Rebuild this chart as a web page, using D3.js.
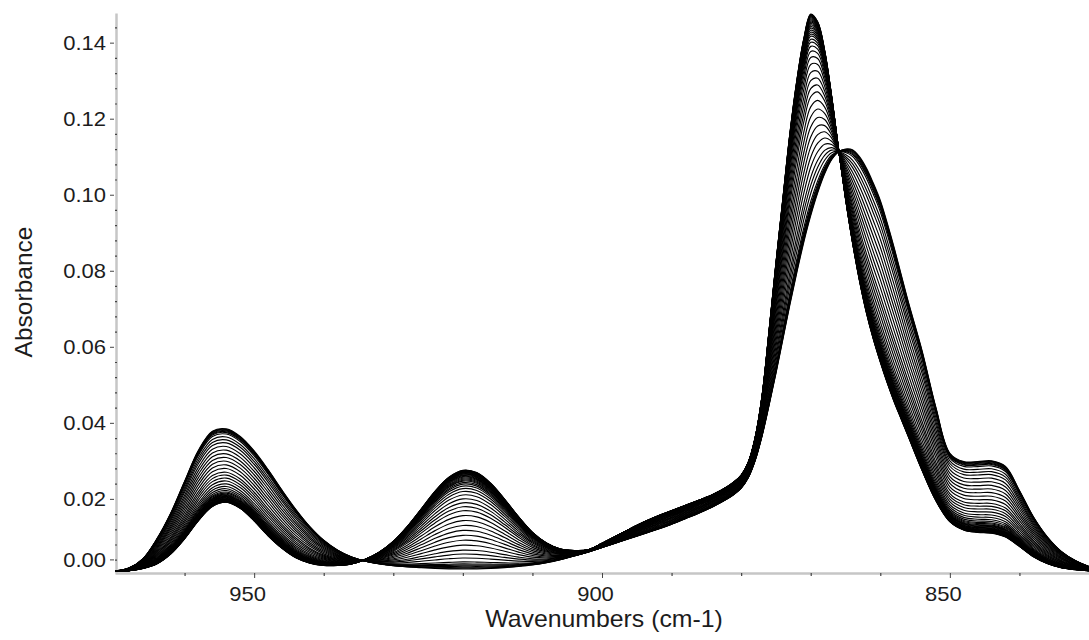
<!DOCTYPE html>
<html>
<head>
<meta charset="utf-8">
<script src="https://cdn.jsdelivr.net/npm/d3@7"></script>
<style>
  body { margin: 0; background: #fff; }
  svg { display: block; }
  text { font-family: "Liberation Sans", Arial, sans-serif; fill: #1c1c1c; }
</style>
</head>
<body>
<svg id="chart" width="1089" height="640"></svg>
<script>
// Sampling grid in cm-1 (finer across the sharp band near 870)
const wavenumbers = [
  970, 968, 966, 964, 962, 960, 958, 956, 954, 952, 950, 948, 946, 944, 942, 940,
  938, 936, 934, 932, 930, 928, 926, 924, 922, 920, 918, 916, 914, 912, 910, 908,
  906, 904, 902, 900, 898, 896, 894, 892, 890, 888, 886, 884,
  882, 881, 880, 879, 878, 877, 876, 875, 874, 873, 872, 871, 870, 869, 868, 867,
  866, 865, 864, 863, 862, 861, 860, 859, 858, 857, 856,
  854, 852, 850, 848, 846, 844, 842, 840, 838, 836, 834, 832, 830
];

// Limiting spectrum at the start of the run (broad band near 865)
const amorphousAbs = [
  0.0010, 0.0018, 0.0042, 0.0094, 0.0162, 0.0246, 0.0328, 0.0378, 0.0384, 0.0364, 0.0326, 0.0277, 0.0223, 0.0172, 0.0127, 0.0091,
  0.0065, 0.0047, 0.0036, 0.0029, 0.0024, 0.0021, 0.0019, 0.0017, 0.0016, 0.0016, 0.0016, 0.0017, 0.0019, 0.0022, 0.0026, 0.0032,
  0.0040, 0.0050, 0.0060, 0.0072, 0.0084, 0.0096, 0.0108, 0.0120, 0.0133, 0.0148, 0.0163, 0.0180,
  0.0200, 0.0212, 0.0228, 0.0255, 0.0300, 0.0365, 0.0445, 0.0530, 0.0620, 0.0710, 0.0795, 0.0875, 0.0945, 0.1005, 0.1055, 0.1092,
  0.1113, 0.1120, 0.1118, 0.1100, 0.1070, 0.1030, 0.0985, 0.0925, 0.0860, 0.0790, 0.0720,
  0.0590, 0.0440, 0.0320, 0.0298, 0.0298, 0.0300, 0.0285, 0.0222, 0.0153, 0.0100, 0.0062, 0.0038, 0.0022
];

// Limiting spectrum at the end of the run (sharp band near 870, band at 920)
const crystallineAbs = [
  0.0009, 0.0011, 0.0017, 0.0029, 0.0055, 0.0095, 0.0143, 0.0180, 0.0191, 0.0175, 0.0142, 0.0103, 0.0070, 0.0045, 0.0031, 0.0025,
  0.0025, 0.0029, 0.0041, 0.0060, 0.0088, 0.0127, 0.0173, 0.0220, 0.0257, 0.0275, 0.0269, 0.0241, 0.0199, 0.0153, 0.0112, 0.0084,
  0.0068, 0.0064, 0.0066, 0.0083, 0.0102, 0.0121, 0.0139, 0.0155, 0.0169, 0.0183, 0.0197, 0.0212,
  0.0232, 0.0245, 0.0262, 0.0295, 0.0360, 0.0470, 0.0640, 0.0820, 0.0990, 0.1160, 0.1300, 0.1410, 0.1475, 0.1455, 0.1380, 0.1260,
  0.1120, 0.0990, 0.0875, 0.0775, 0.0690, 0.0620, 0.0560, 0.0505, 0.0455, 0.0410, 0.0365,
  0.0275, 0.0195, 0.0140, 0.0118, 0.0112, 0.0110, 0.0100, 0.0075, 0.0048, 0.0030, 0.0019, 0.0014, 0.0011
];

// Position of each recorded spectrum between the two limiting spectra
const conversion = [
  0, 0.008, 0.016, 0.026, 0.038, 0.05, 0.07, 0.11, 0.15, 0.19, 0.24, 0.29, 0.34, 0.39, 0.44, 0.49,
  0.54, 0.59, 0.63, 0.67, 0.71, 0.75, 0.785, 0.815, 0.84, 0.86, 0.875, 0.89, 0.90, 0.91, 0.92, 0.93,
  0.938, 0.946, 0.953, 0.96, 0.966, 0.972, 0.977, 0.982, 0.986, 0.99, 0.993, 0.996, 0.998, 1.0
];

const xMajorTicks = [950, 900, 850];
const xMinorTicks = [960, 940, 930, 920, 910, 890, 880, 870, 860, 840];
const yMajorTicks = [0, 0.02, 0.04, 0.06, 0.08, 0.10, 0.12, 0.14];
const yMinorTicks = [0.004, 0.008, 0.012, 0.016, 0.024, 0.028, 0.032, 0.036, 0.044, 0.048, 0.052, 0.056,
  0.064, 0.068, 0.072, 0.076, 0.084, 0.088, 0.092, 0.096, 0.104, 0.108, 0.112, 0.116,
  0.124, 0.128, 0.132, 0.136, 0.144];

const plot = { left: 115, right: 1089, top: 13, bottom: 573 };

const svg = d3.select("#chart");

const x = d3.scaleLinear().domain([970, 830]).range([plot.left, plot.right]);
const y = d3.scaleLinear().domain([0.0005, 0.1478]).range([plot.bottom, plot.top]);

const axisGrey = "#c6c6c6";
const tickInk = "#444";

// ---- y axis ----
const yAxisG = svg.append("g").attr("transform", `translate(${plot.left + 1},0)`)
  .call(d3.axisLeft(y).tickValues(yMajorTicks).tickSize(6).tickSizeOuter(0)
    .tickFormat(d3.format(".2f")));
yAxisG.select(".domain").attr("stroke", axisGrey).attr("stroke-width", 2.5);
yAxisG.selectAll(".tick line").attr("stroke", tickInk).attr("stroke-width", 1).attr("x1", -2);
yAxisG.selectAll(".tick text")
  .attr("x", 0).attr("dy", "0.34em")
  .attr("transform", "translate(-10,0) scale(1.1,1)")
  .style("font-size", "20px");
// keep the zero label clear of the x axis
yAxisG.selectAll(".tick").filter(d => d === 0)
  .attr("transform", `translate(0,${y(0) - 15})`);

svg.append("g").attr("transform", `translate(${plot.left},0)`)
  .call(d3.axisRight(y).tickValues(yMinorTicks).tickSize(2).tickFormat(""))
  .call(g => g.select(".domain").remove())
  .call(g => g.selectAll(".tick line").attr("stroke", tickInk).attr("stroke-width", 1.2));

// ---- x axis ----
const xAxisG = svg.append("g").attr("transform", `translate(0,${plot.bottom})`)
  .call(d3.axisBottom(x).tickValues(xMajorTicks).tickSize(5).tickSizeOuter(0)
    .tickFormat(d3.format("d")));
xAxisG.select(".domain").attr("stroke", axisGrey).attr("stroke-width", 2.5);
xAxisG.selectAll(".tick line").attr("stroke", tickInk).attr("stroke-width", 1);
xAxisG.selectAll(".tick text")
  .attr("y", 0).attr("dy", "0.71em")
  .attr("transform", "translate(-7,14) scale(1.1,1)")
  .style("font-size", "20px");

svg.append("g").attr("transform", `translate(0,${plot.bottom})`)
  .call(d3.axisBottom(x).tickValues(xMinorTicks).tickSize(3).tickFormat(""))
  .call(g => g.select(".domain").remove())
  .call(g => g.selectAll(".tick line").attr("stroke", tickInk).attr("stroke-width", 1.2));

// ---- axis titles ----
svg.append("text")
  .attr("transform", "translate(604,627) scale(1.08,1)")
  .attr("text-anchor", "middle")
  .style("font-size", "23px")
  .text("Wavenumbers (cm-1)");

svg.append("text")
  .attr("transform", "translate(32,292) rotate(-90)")
  .attr("text-anchor", "middle")
  .style("font-size", "24.5px")
  .text("Absorbance");

// ---- spectra ----
const spectra = conversion.map(f =>
  wavenumbers.map((wn, i) => ({
    wn,
    abs: amorphousAbs[i] + f * (crystallineAbs[i] - amorphousAbs[i])
  }))
);

const line = d3.line()
  .x(d => x(d.wn))
  .y(d => y(d.abs))
  .curve(d3.curveCatmullRom.alpha(0.5));

svg.append("g")
  .selectAll("path")
  .data(spectra)
  .join("path")
  .attr("d", line)
  .attr("fill", "none")
  .attr("stroke", "#000")
  .attr("stroke-width", 1.15);
</script>
</body>
</html>
